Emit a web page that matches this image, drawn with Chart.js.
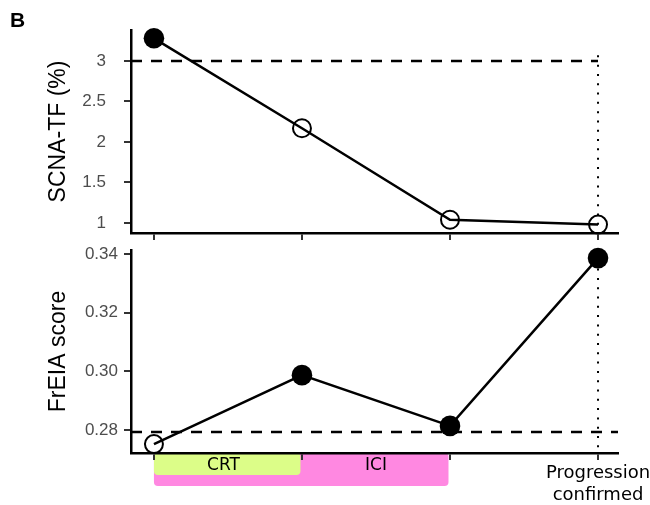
<!DOCTYPE html>
<html>
<head>
<meta charset="utf-8">
<script src="https://cdn.jsdelivr.net/npm/chart.js@4.4.1/dist/chart.umd.min.js"></script>
<style>
  body { margin: 0; background: #fff; }
  #wrap { position: relative; width: 650px; height: 505px; overflow: hidden; }
  #topChart { position: absolute; left: 0; top: 0; }
  #bottomChart { position: absolute; left: 0; top: 245px; }
  #panelTag { position: absolute; left: 10px; top: 9px; font: bold 21px 'Liberation Sans', Arial, sans-serif; line-height: 21px; }
</style>
</head>
<body>
<div id="wrap">
  <canvas id="topChart" width="650" height="245"></canvas>
  <canvas id="bottomChart" width="650" height="260"></canvas>
  <div id="panelTag">B</div>
</div>
<script>
// data
const timepoints = [0, 1, 2, 3];
const scnaTf = [3.28, 2.17, 1.04, 0.98];
const scnaFilled = [true, false, false, false];
const freiaScore = [0.2752, 0.2987, 0.2814, 0.3386];
const freiaFilled = [false, true, true, true];

const scnaThreshold = 3;
const freiaThreshold = 0.2793;
const scnaDottedTop = 3.07;

const scnaTicks = [1, 1.5, 2, 2.5, 3];
const freiaTicks = [0.28, 0.30, 0.32, 0.34];
const xTickLabels = ['', '', '', ['Progression', 'confirmed']];

const phaseNames = ['ICI', 'CRT'];
const phaseStart = [0, 0];
const phaseEnd = [2, 1];
const phaseLabelAt = [1.5, 0.47];
const phaseColors = ['#ff88e1', '#dcfd88'];

// axis limits
const xMin = -0.155, xMax = 3.135;
const scnaMin = 0.8765, scnaMax = 3.3827;
const freiaMin = 0.27216, freiaMax = 0.34136;

const tickFont = { family: 'Liberation Sans', size: 17 };
const titleFont = { family: 'Liberation Sans', size: 23 };

function pts(ys) {
    return timepoints.map((x, i) => ({ x: x, y: ys[i] }));
}

function mainSeries(ys, filled) {
    return {
        data: pts(ys),
        borderColor: '#000',
        borderWidth: 2.5,
        tension: 0,
        clip: false,
        pointRadius: c => filled[c.dataIndex] ? 10.3 : 9,
        pointBackgroundColor: c => filled[c.dataIndex] ? '#000' : 'rgba(0,0,0,0)',
        pointBorderColor: '#000',
        pointBorderWidth: c => filled[c.dataIndex] ? 0 : 2
    };
}

function refLine(data, dash, width) {
    return {
        data: data,
        borderColor: '#000',
        borderWidth: width,
        borderDash: dash,
        borderCapStyle: 'butt',
        pointRadius: 0,
        clip: false
    };
}

function fixWidth(w) {
    return s => { s.width = w; s.paddingTop = 0; s.paddingBottom = 0; s.paddingLeft = 0; s.paddingRight = 0; };
}
function fixHeight(h) {
    return s => { s.height = h; s.paddingTop = 0; s.paddingBottom = 0; s.paddingLeft = 0; s.paddingRight = 0; };
}

function xAxis(height, showLabels) {
    return {
        type: 'linear',
        min: xMin,
        max: xMax,
        afterBuildTicks: s => { s.ticks = timepoints.map(v => ({ value: v })); },
        afterFit: fixHeight(height),
        grid: { drawOnChartArea: false, tickLength: 7, color: '#333', lineWidth: 2 },
        border: { color: '#000', width: 2.5 },
        ticks: {
            autoSkip: false,
            maxRotation: 0,
            minRotation: 0,
            padding: 2,
            color: '#000',
            font: { family: 'DejaVu Sans', size: 18, lineHeight: 1.25 },
            callback: v => showLabels ? (xTickLabels[timepoints.indexOf(v)] || '') : ''
        }
    };
}

function yAxis(min, max, tickVals, fmt, pad, title) {
    return {
        min: min,
        max: max,
        afterBuildTicks: s => { s.ticks = tickVals.map(v => ({ value: v })); },
        afterFit: fixWidth(131),
        grid: { drawOnChartArea: false, tickLength: 7, color: '#333', lineWidth: 2 },
        border: { color: '#000', width: 2.5 },
        ticks: { color: '#4d4d4d', font: tickFont, padding: pad, callback: fmt },
        title: { display: true, text: title, color: '#000', font: titleFont, padding: { top: 45, bottom: 0 } }
    };
}

const commonPlugins = { legend: { display: false }, tooltip: { enabled: false } };

new Chart(document.getElementById('topChart'), {
    type: 'line',
    data: {
        datasets: [
            mainSeries(scnaTf, scnaFilled),
            refLine([{ x: xMin, y: scnaThreshold }, { x: timepoints[3], y: scnaThreshold }], [11, 9], 2.5),
            refLine([{ x: timepoints[3], y: scnaDottedTop }, { x: timepoints[3], y: scnaMin }], [2, 7.3], 2)
        ]
    },
    options: {
        responsive: false,
        animation: false,
        events: [],
        layout: { autoPadding: false, padding: { top: 30, right: 32, left: 0, bottom: 0 } },
        scales: {
            x: xAxis(12, false),
            y: yAxis(scnaMin, scnaMax, scnaTicks, v => String(v), 18, 'SCNA-TF (%)')
        },
        plugins: commonPlugins
    }
});

const phaseBars = {
    id: 'phaseBars',
    beforeDraw(chart) {
        const ctx = chart.ctx;
        const xs = chart.scales.x;
        const top = chart.chartArea.bottom;
        const heights = [33, 22];
        ctx.save();
        phaseNames.forEach((name, i) => {
            const x0 = xs.getPixelForValue(phaseStart[i]);
            const x1 = xs.getPixelForValue(phaseEnd[i]) - 1.5;
            ctx.fillStyle = phaseColors[i];
            ctx.beginPath();
            ctx.roundRect(x0, top, x1 - x0, heights[i], 4);
            ctx.fill();
        });
        ctx.fillStyle = '#000';
        ctx.font = '17px "DejaVu Sans"';
        ctx.textAlign = 'center';
        ctx.textBaseline = 'alphabetic';
        phaseNames.forEach((name, i) => {
            ctx.fillText(name, xs.getPixelForValue(phaseLabelAt[i]), top + 17);
        });
        ctx.restore();
    }
};

new Chart(document.getElementById('bottomChart'), {
    type: 'line',
    data: {
        datasets: [
            mainSeries(freiaScore, freiaFilled),
            refLine([{ x: xMin, y: freiaThreshold }, { x: xMax, y: freiaThreshold }], [11, 9], 2.5),
            refLine([{ x: timepoints[3], y: freiaMax }, { x: timepoints[3], y: freiaMin }], [2, 7.3], 2)
        ]
    },
    options: {
        responsive: false,
        animation: false,
        events: [],
        layout: { autoPadding: false, padding: { top: 5, right: 32, left: 0, bottom: 0 } },
        scales: {
            x: xAxis(52, true),
            y: yAxis(freiaMin, freiaMax, freiaTicks, v => v.toFixed(2), 6, 'FrEIA score')
        },
        plugins: commonPlugins
    },
    plugins: [phaseBars]
});
</script>
</body>
</html>
